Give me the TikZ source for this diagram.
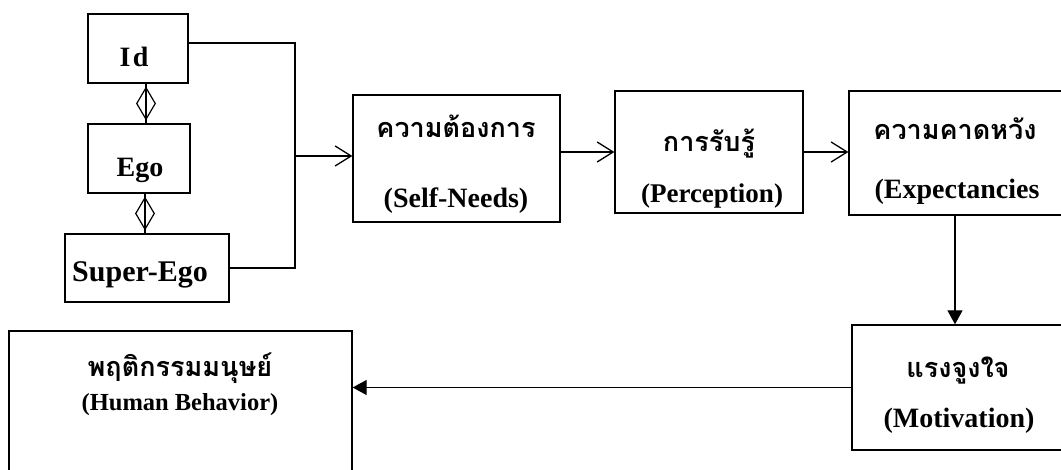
\documentclass[tikz,border=0pt]{standalone}
\usepackage{fontspec}
\setmainfont{Liberation Serif}
\newfontfamily\thaifont[Script=Thai]{Loma}
\usetikzlibrary{arrows.meta,shapes.geometric}
\begin{document}
\begin{tikzpicture}[x=1pt,y=-1pt,
  box/.style={draw,line width=1.3pt,inner sep=0pt},
  en/.style={inner sep=0pt,anchor=base,font=\bfseries\fontsize{28}{32}\selectfont},
  th/.style={inner sep=0pt,anchor=base,font=\thaifont\bfseries\fontsize{27}{31}\selectfont},
  conn/.style={line width=1.2pt},
  openarr/.style={conn,-{Straight Barb[length=16pt,width=20pt,line width=1.3pt]}},
  fillarr/.style={conn,-{Triangle[length=14pt,width=15pt]}},
  diam/.style={diamond,draw,line width=1.2pt,inner sep=0pt,aspect=0.6,minimum width=19pt,minimum height=32pt}
]
\useasboundingbox (0,0) rectangle (1061,470);
\clip (0,0) rectangle (1061,470);
% boxes
\node[box,minimum width=100pt,minimum height=69pt] (id) at (138,48.5) {};
\node[box,minimum width=102pt,minimum height=69pt] (ego) at (139,158.5) {};
\node[box,minimum width=164pt,minimum height=68pt] (sego) at (147,268) {};
\node[box,minimum width=207pt,minimum height=127pt] (need) at (456.5,158.5) {};
\node[box,minimum width=188pt,minimum height=122pt] (perc) at (709,152) {};
\node[box,minimum width=216pt,minimum height=124pt] (exp) at (957,153) {};
\node[box,minimum width=214pt,minimum height=125pt] (mot) at (959,387.5) {};
\node[box,minimum width=343pt,minimum height=150pt] (hb) at (180.5,406) {};
% labels
\node[en] (idl) at (134,67) {I\kern2.5pt d};
\node[en] (egol) at (140,177) {Ego};
\node[en,font=\bfseries\fontsize{30}{34}\selectfont] (segol) at (140,282) {Super-Ego};
\node[th] (needt) at (456,138) {ความต้องการ};
\node[en] (neede) at (456,208) {(Self-Needs)};
\node[th] (perct) at (709,152) {การรับรู้};
\node[en,font=\bfseries\fontsize{27}{31}\selectfont] (perce) at (712,203) {(Perception)};
\node[th] (expt) at (955,140) {ความคาดหวัง};
\node[en] (expe) at (957,199) {(Expectancies};
\node[th] (mott) at (958,378) {แรงจูงใจ};
\node[en] (mote) at (959,428) {(Motivation)};
\node[th] (hbt) at (180,377) {พฤติกรรมมนุษย์};
\node[en,font=\bfseries\fontsize{24.5}{28}\selectfont] (hbe) at (180,411) {(Human Behavior)};
% diamonds between Id / Ego / Super-Ego
\draw[conn] ([xshift=8pt]id.south) -- node[diam,pos=0.5] (d1) {} ([xshift=7pt]ego.north);
\draw[conn] ([xshift=6pt]ego.south) -- node[diam,pos=0.5] (d2) {} ([xshift=-2pt]sego.north);
% bracket into Self-Needs
\coordinate (j) at (295,156);
\draw[conn] ([yshift=5.5pt]id.east) -| (j) |- (sego.east);
\draw[openarr] (j) -- (j -| need.west);
% chain
\draw[openarr] (need.east |- perc.west) -- (perc.west);
\draw[openarr] (perc.east) -- (perc.east -| exp.west);
\draw[fillarr] ([xshift=-2pt]exp.south) -- ([xshift=-2pt]exp.south |- mot.north);
\draw[fillarr] (mot.west) -- (mot.west -| hb.east);
\end{tikzpicture}
\end{document}
